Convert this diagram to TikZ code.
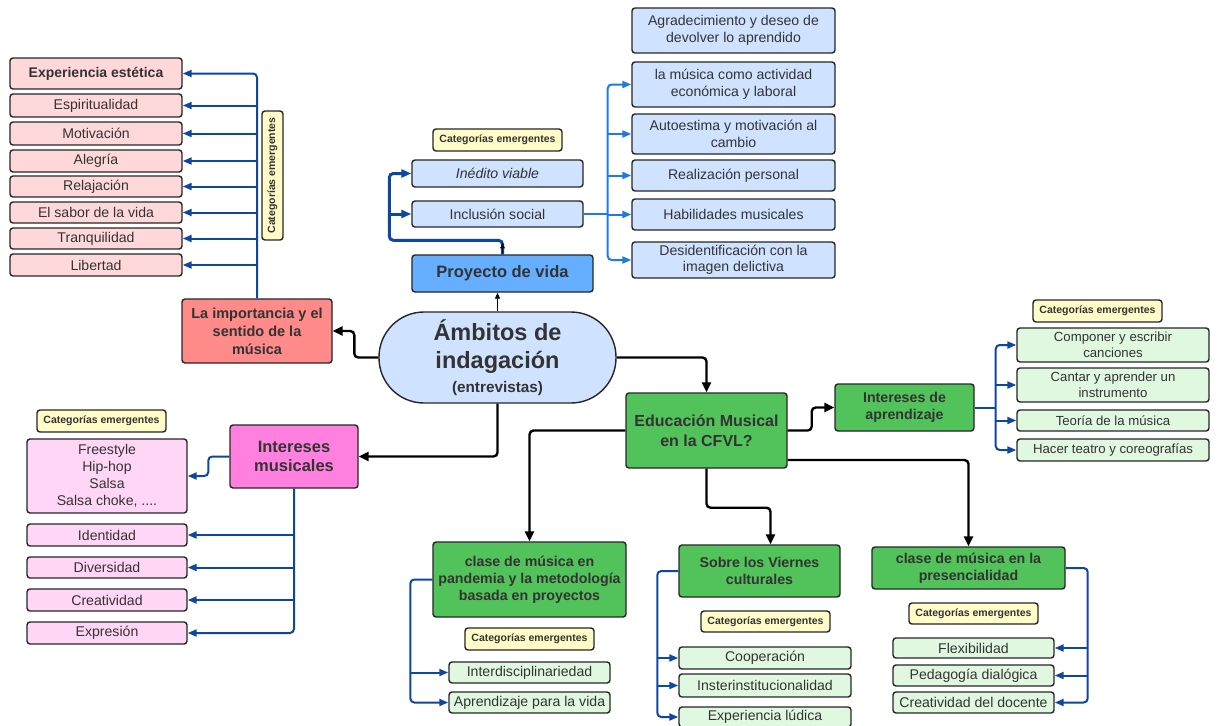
\documentclass[tikz,border=0pt]{standalone}
\usepackage{fontspec}
\setmainfont{Liberation Sans}
\usetikzlibrary{arrows.meta,calc}
\definecolor{txt}{HTML}{333333}
\definecolor{lnb}{HTML}{0D47A1}
\definecolor{lnbb}{HTML}{1E7BE6}
\definecolor{pinkA}{HTML}{FFD9D9}
\definecolor{redA}{HTML}{FF8A8A}
\definecolor{yelA}{HTML}{FFFCC8}
\definecolor{blueA}{HTML}{CFE2FF}
\definecolor{blueB}{HTML}{66AEFF}
\definecolor{greenA}{HTML}{52C35A}
\definecolor{greenB}{HTML}{E0F8E0}
\definecolor{magA}{HTML}{FF80DF}
\definecolor{magB}{HTML}{FFD6F5}
\newcommand{\mkbox}[7]{\node[#1, minimum width={(#5)-(#3)}, minimum height={(#6)-(#4)}] (#2) at ({((#3)+(#5))/2},{((#4)+(#6))/2}) {#7};}
\tikzset{
 bx/.style={draw=black!85, line width=1.4pt, rounded corners=3pt, inner sep=1pt, align=center, text=txt, font=\fontsize{14.1}{16.5}\selectfont},
 hd/.style={bx, font=\bfseries\fontsize{14.2}{17}\selectfont},
 cat/.style={bx, fill=yelA, font=\bfseries\fontsize{10.5}{12}\selectfont},
 gsm/.style={bx, fill=greenB, font=\fontsize{13.2}{16}\selectfont},
 bln/.style={draw=lnb, line width=2pt, rounded corners=4pt},
 bl/.style={bln, -{Triangle[length=9pt,width=7pt]}},
 bbn/.style={draw=lnbb, line width=2pt, rounded corners=4pt},
 bb/.style={bbn, -{Triangle[length=9pt,width=7pt]}},
 bk/.style={draw=black, line width=2.4pt, rounded corners=4pt, -{Triangle[length=10pt,width=9pt]}},
}
\begin{document}
\begin{tikzpicture}[x=1pt,y=-1pt]
\useasboundingbox (0,0) rectangle (1217,725);
\fill[white] (0,0) rectangle (1217,725);
% ---- top left
\mkbox{bx,fill=pinkA,font=\bfseries\fontsize{14}{16}\selectfont}{exp}{10}{58}{182}{89}{Experiencia estética}
\mkbox{bx,fill=pinkA}{esp}{10}{94}{182}{117}{Espiritualidad}
\mkbox{bx,fill=pinkA}{mot}{10}{122}{182}{145}{Motivación}
\mkbox{bx,fill=pinkA}{ale}{10}{150}{182}{172}{Alegría}
\mkbox{bx,fill=pinkA}{rel}{10}{176}{182}{197}{Relajación}
\mkbox{bx,fill=pinkA}{sab}{10}{202}{182}{223}{El sabor de la vida}
\mkbox{bx,fill=pinkA}{tra}{10}{228}{182}{249}{Tranquilidad}
\mkbox{bx,fill=pinkA}{lib}{10}{254}{182}{276}{Libertad}
\mkbox{hd,fill=redA,font=\bfseries\fontsize{14.5}{18}\selectfont}{imp}{182}{299}{332}{363}{La importancia y el\\sentido de la\\música}
\node[cat, rotate=90, minimum width=129, minimum height=21] (c1) at (272.5,175.5) {Categorías emergentes};
% ---- center
\node[bx, fill=blueA, rounded corners=45pt, minimum width=237, minimum height=91, font=\bfseries\fontsize{23.5}{28}\selectfont] (amb) at (497.5,357.5) {Ámbitos de\\indagación\\[-4pt]{\fontsize{15.3}{18}\selectfont (entrevistas)}};
% ---- proyecto de vida
\mkbox{bx,fill=blueB,font=\bfseries\fontsize{16.5}{19}\selectfont}{proy}{412}{255}{593}{292}{Proyecto de vida}
\mkbox{bx,fill=blueA,font=\itshape\fontsize{14.1}{16.5}\selectfont}{ined}{412}{160}{583}{187}{Inédito viable}
\mkbox{bx,fill=blueA}{incl}{412}{201}{583}{227}{Inclusión social}
\mkbox{cat}{c2}{433}{129}{562}{151}{Categorías emergentes}
\mkbox{bx,fill=blueA}{agr}{632}{8}{835}{53}{Agradecimiento y deseo de\\devolver lo aprendido}
\mkbox{bx,fill=blueA}{mus}{632}{62}{835}{107}{la música como actividad\\económica y laboral}
\mkbox{bx,fill=blueA}{auto}{632}{114}{835}{154}{Autoestima y motivación al\\cambio}
\mkbox{bx,fill=blueA}{real}{632}{160}{835}{191}{Realización personal}
\mkbox{bx,fill=blueA}{hab}{632}{199}{835}{230}{Habilidades musicales}
\mkbox{bx,fill=blueA}{desi}{632}{242}{835}{278}{Desidentificación con la\\imagen delictiva}
% ---- intereses musicales
\mkbox{bx,fill=magA,font=\bfseries\fontsize{16.5}{19}\selectfont}{intm}{230}{425}{358}{488}{Intereses\\musicales}
\mkbox{cat}{c3}{37}{410}{166}{432}{Categorías emergentes}
\mkbox{bx,fill=magB,font=\fontsize{14.1}{17}\selectfont}{free}{27}{439}{187}{513}{Freestyle\\Hip-hop\\Salsa\\Salsa choke, ....}
\mkbox{bx,fill=magB}{ident}{27}{524}{187}{546}{Identidad}
\mkbox{bx,fill=magB}{div}{27}{557}{187}{578}{Diversidad}
\mkbox{bx,fill=magB}{crea}{27}{589}{187}{611}{Creatividad}
\mkbox{bx,fill=magB}{expr}{27}{622}{187}{644}{Expresión}
% ---- educacion
\mkbox{bx,fill=greenA,font=\bfseries\fontsize{16}{20}\selectfont}{edu}{626}{393}{787}{468}{Educación Musical\\en la CFVL?}
\mkbox{hd,fill=greenA}{intA}{835}{384}{974}{431}{Intereses de\\aprendizaje}
\mkbox{cat}{c4}{1033}{300}{1162}{322}{Categorías emergentes}
\mkbox{gsm}{comp}{1017}{328}{1209}{362}{Componer y escribir\\canciones}
\mkbox{gsm}{cant}{1017}{368}{1209}{402}{Cantar y aprender un\\instrumento}
\mkbox{gsm}{teo}{1017}{410}{1209}{431}{Teoría de la música}
\mkbox{gsm}{hac}{1017}{439}{1209}{461}{Hacer teatro y coreografías}
\mkbox{hd,fill=greenA}{pand}{433}{542}{626}{617}{clase de música en\\pandemia y la metodología\\basada en proyectos}
\mkbox{cat}{c5}{465}{628}{594}{650}{Categorías emergentes}
\mkbox{bx,fill=greenB}{inter}{449}{662}{610}{683}{Interdisciplinariedad}
\mkbox{bx,fill=greenB}{apr}{449}{692}{610}{713}{Aprendizaje para la vida}
\mkbox{hd,fill=greenA}{vier}{679}{545}{840}{597}{Sobre los Viernes\\culturales}
\mkbox{cat}{c6}{701}{611}{830}{632}{Categorías emergentes}
\mkbox{bx,fill=greenB}{coop}{679}{647}{851}{669}{Cooperación}
\mkbox{bx,fill=greenB}{inst}{679}{674}{851}{697}{Insterinstitucionalidad}
\mkbox{bx,fill=greenB}{lud}{679}{707}{851}{727}{Experiencia lúdica}
\mkbox{hd,fill=greenA}{pres}{872}{547}{1065}{589}{clase de música en la\\presencialidad}
\mkbox{cat}{c7}{909}{603}{1038}{624}{Categorías emergentes}
\mkbox{bx,fill=greenB}{flex}{893}{638}{1054}{658}{Flexibilidad}
\mkbox{bx,fill=greenB}{ped}{893}{665}{1054}{686}{Pedagogía dialógica}
\mkbox{bx,fill=greenB}{cread}{893}{692}{1054}{713}{Creatividad del docente}
% ---- connectors: importancia
\draw[bl] (imp.north) |- (exp.east);
\foreach \n in {esp,mot,ale,rel,sab,tra,lib} \draw[bl] (imp.north |- \n.east) -- (\n.east);
\draw[bk] (amb.west) -- ++(-24,0) |- (imp.east);
% proyecto
\draw[-{Triangle[length=6pt,width=5pt]}, line width=0.8pt] (amb.north) -- (amb.north |- proy.south);
\coordinate (pj) at ([xshift=-22pt]ined.west);
\draw[draw=lnb, line width=3pt, rounded corners=4pt, -{Triangle[length=10pt,width=8pt]}] (proy.north) -- ++(0,-14) -| (pj) -- (ined.west);
\draw[draw=lnb, line width=3pt, -{Triangle[length=10pt,width=8pt]}] (pj |- incl.west) -- (incl.west);
\draw[-{Latex[length=6pt,width=5pt]}, line width=0.7pt] (proy.north) -- ++(0,-12);
\coordinate (rv) at ([xshift=24pt]incl.east);
\draw[bbn] (incl.east) -- (rv);
\draw[bb] (rv) |- (mus.west);
\draw[bb] (rv) |- (desi.west);
\foreach \n in {auto,real,hab} \draw[bb] (rv |- \n.west) -- (\n.west);
% intereses musicales
\draw[bk] (amb.south) |- (intm.east);
\draw[bl] (intm.west) -- ++(-21,0) |- (free.east);
\draw[bl] (intm.south) |- (expr.east);
\foreach \n in {ident,div,crea} \draw[bl] (intm.south |- \n.east) -- (\n.east);
% educacion
\draw[bk] (amb.east) -| (edu.north);
\draw[bk] (edu.east) -- ++(24,0) |- (intA.west);
\draw[bk] (edu.west) -| (pand.north);
\draw[bk] (edu.south) -- ++(0,39) -| ([xshift=11pt]vier.north);
\draw[bk] ([yshift=-29.5pt]edu.east) -| (pres.north);
\coordinate (ra) at ([xshift=21pt]intA.east);
\draw[bln] (intA.east) -- (ra);
\draw[bl] (ra) |- (comp.west);
\draw[bl] (ra) |- (hac.west);
\foreach \n in {cant,teo} \draw[bl] (ra |- \n.west) -- (\n.west);
\coordinate (pv) at ([xshift=-22pt]pand.west);
\draw[bl] (pand.west) -- (pv) |- (apr.west);
\draw[bl] (pv |- inter.west) -- (inter.west);
\coordinate (vv) at ([xshift=-21pt]vier.west);
\draw[bl] (vier.west) -- (vv) |- (lud.west);
\foreach \n in {coop,inst} \draw[bl] (vv |- \n.west) -- (\n.west);
\coordinate (qv) at ([xshift=22pt]pres.east);
\draw[bl] (pres.east) -- (qv) |- (cread.east);
\foreach \n in {flex,ped} \draw[bl] (qv |- \n.east) -- (\n.east);
\end{tikzpicture}
\end{document}
